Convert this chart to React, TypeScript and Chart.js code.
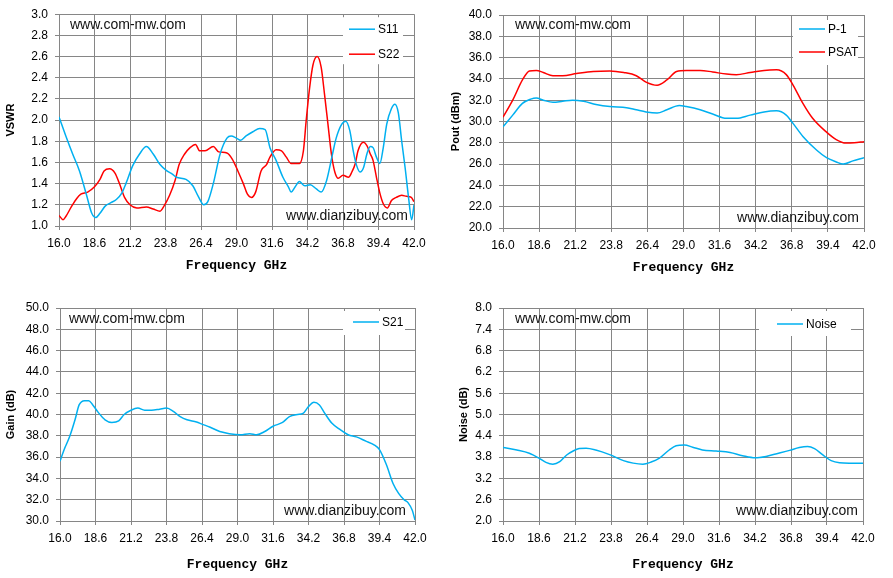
import { useEffect, useRef } from "react";
import { Chart, registerables } from "chart.js";

Chart.register(...registerables);

const BLUE = "#00B0F0";
const RED = "#FF0000";
const GRID = "#868686";
const SANS = '"Liberation Sans", Arial, sans-serif';

// ---- data ----
const freqTicks = [16.0, 18.6, 21.2, 23.8, 26.4, 29.0, 31.6, 34.2, 36.8, 39.4, 42.0];
const vswrTicks = [1.0, 1.2, 1.4, 1.6, 1.8, 2.0, 2.2, 2.4, 2.6, 2.8, 3.0];
const poutTicks = [20, 22, 24, 26, 28, 30, 32, 34, 36, 38, 40];
const gainTicks = [30, 32, 34, 36, 38, 40, 42, 44, 46, 48, 50];
const noiseTicks = [2.0, 2.6, 3.2, 3.8, 4.4, 5.0, 5.6, 6.2, 6.8, 7.4, 8.0];

const s11Freq = [16.0, 16.5, 17.0, 17.5, 18.0, 18.4, 18.7, 19.0, 19.4, 19.8, 20.2, 20.6, 20.9, 21.4, 21.9, 22.4, 22.9, 23.4, 23.9, 24.3, 24.6, 25.3, 25.8, 26.2, 26.6, 26.9, 27.3, 27.8, 28.3, 28.6, 29.0, 29.3, 29.7, 30.2, 30.7, 31.1, 31.45, 31.9, 32.4, 32.8, 33.0, 33.3, 33.6, 34.0, 34.4, 34.85, 35.2, 35.6, 36.0, 36.3, 36.7, 37.0, 37.3, 37.55, 37.8, 38.05, 38.3, 38.55, 38.8, 39.0, 39.25, 39.5, 39.75, 40.0, 40.35, 40.6, 40.85, 41.1, 41.35, 41.6, 41.83, 42.0];
const s11Vswr = [2.03, 1.85, 1.68, 1.52, 1.3, 1.12, 1.08, 1.12, 1.19, 1.22, 1.25, 1.31, 1.4, 1.57, 1.68, 1.75, 1.68, 1.58, 1.52, 1.49, 1.46, 1.44, 1.38, 1.28, 1.2, 1.23, 1.4, 1.68, 1.83, 1.85, 1.83, 1.81, 1.85, 1.89, 1.92, 1.91, 1.74, 1.62, 1.46, 1.37, 1.32, 1.37, 1.42, 1.38, 1.39, 1.35, 1.32, 1.43, 1.66, 1.83, 1.96, 1.99, 1.9, 1.71, 1.57, 1.51, 1.55, 1.68, 1.75, 1.74, 1.65, 1.59, 1.74, 1.96, 2.11, 2.15, 2.07, 1.8, 1.55, 1.27, 1.06, 1.2];

const s22Freq = [16.0, 16.3, 16.5, 16.9, 17.3, 17.6, 18.1, 18.6, 19.0, 19.3, 19.7, 20.1, 20.4, 20.8, 21.2, 21.7, 22.4, 22.9, 23.4, 23.7, 24.1, 24.5, 24.8, 25.2, 25.6, 26.0, 26.3, 26.7, 27.3, 27.7, 28.3, 28.7, 29.1, 29.5, 29.8, 30.1, 30.4, 30.8, 31.2, 31.45, 31.9, 32.3, 32.65, 33.0, 33.6, 33.9, 34.1, 34.35, 34.6, 34.9, 35.2, 35.45, 35.7, 35.95, 36.2, 36.45, 36.8, 37.2, 37.45, 37.7, 37.9, 38.3, 38.55, 38.8, 39.0, 39.25, 39.5, 39.75, 40.05, 40.35, 40.7, 41.1, 41.45, 41.8, 42.0];
const s22Vswr = [1.1, 1.06, 1.09, 1.18, 1.26, 1.3, 1.32, 1.37, 1.44, 1.52, 1.54, 1.5, 1.41, 1.27, 1.2, 1.17, 1.18, 1.16, 1.14, 1.19, 1.29, 1.43, 1.58, 1.68, 1.74, 1.77, 1.71, 1.71, 1.75, 1.7, 1.69, 1.63, 1.52, 1.4, 1.3, 1.27, 1.32, 1.52, 1.58, 1.65, 1.72, 1.71, 1.65, 1.59, 1.59, 1.71, 1.99, 2.3, 2.52, 2.6, 2.5, 2.24, 1.96, 1.68, 1.51, 1.45, 1.48, 1.46, 1.51, 1.59, 1.71, 1.79, 1.76, 1.68, 1.62, 1.46, 1.31, 1.21, 1.17, 1.24, 1.27, 1.29, 1.28, 1.27, 1.23];

const p1Freq = [16.0, 16.7, 17.4, 18.0, 18.4, 18.9, 19.6, 20.3, 21.0, 21.8, 22.7, 23.7, 24.9, 25.6, 26.3, 27.1, 27.8, 28.7, 29.2, 30.2, 31.1, 32.1, 32.8, 33.8, 34.8, 35.7, 36.4, 36.9, 37.6, 38.6, 39.3, 40.0, 40.5, 41.2, 42.0];
const p1Pout = [29.5, 30.6, 31.7, 32.1, 32.2, 32.0, 31.8, 31.9, 32.0, 31.9, 31.6, 31.4, 31.3, 31.1, 30.9, 30.8, 31.1, 31.5, 31.4, 31.1, 30.7, 30.3, 30.3, 30.6, 30.9, 31.0, 30.6, 29.8, 28.6, 27.3, 26.6, 26.2, 26.0, 26.3, 26.6];

const psatFreq = [16.0, 16.7, 17.4, 17.9, 18.4, 18.9, 19.6, 20.3, 21.3, 22.5, 23.7, 24.7, 25.6, 26.3, 27.1, 27.8, 28.5, 29.2, 30.2, 31.1, 32.1, 32.8, 33.8, 34.8, 35.7, 36.4, 36.9, 37.6, 38.3, 39.3, 40.0, 40.7, 41.3, 42.0];
const psatPout = [30.4, 32.0, 33.9, 34.75, 34.8, 34.6, 34.3, 34.3, 34.5, 34.7, 34.75, 34.6, 34.3, 33.7, 33.4, 33.9, 34.7, 34.8, 34.8, 34.65, 34.45, 34.4, 34.6, 34.8, 34.85, 34.4, 33.4, 31.7, 30.3, 29.0, 28.3, 27.97, 28.0, 28.1];

const s21Freq = [16.0, 16.3, 16.7, 17.1, 17.4, 17.8, 18.1, 18.4, 18.8, 19.3, 19.8, 20.3, 20.7, 21.2, 21.7, 22.2, 22.7, 23.3, 23.8, 24.3, 24.8, 25.3, 26.0, 26.4, 27.0, 27.7, 28.4, 29.2, 29.9, 30.4, 31.0, 31.6, 32.3, 32.8, 33.4, 33.8, 34.2, 34.6, 35.0, 35.4, 35.9, 36.5, 37.1, 37.7, 38.4, 39.0, 39.4, 39.9, 40.4, 40.8, 41.2, 41.5, 41.8, 42.0];
const s21Gain = [35.6, 36.7, 37.9, 39.5, 40.9, 41.3, 41.3, 40.9, 40.2, 39.5, 39.25, 39.4, 40.0, 40.4, 40.6, 40.4, 40.4, 40.5, 40.6, 40.3, 39.8, 39.5, 39.3, 39.1, 38.8, 38.4, 38.2, 38.1, 38.2, 38.1, 38.4, 38.9, 39.25, 39.8, 40.0, 40.1, 40.75, 41.15, 40.9, 40.1, 39.2, 38.6, 38.1, 37.9, 37.5, 37.15, 36.7, 35.3, 33.5, 32.6, 32.0, 31.7, 31.0, 30.1];

const nfFreq = [16.0, 17.0, 17.9, 18.6, 19.1, 19.6, 20.1, 20.6, 21.1, 21.5, 22.0, 22.7, 23.7, 24.7, 25.4, 26.1, 26.7, 27.3, 28.0, 28.5, 29.1, 29.7, 30.4, 31.4, 32.4, 33.3, 34.2, 35.0, 35.7, 36.7, 37.4, 38.0, 38.5, 39.1, 39.7, 40.3, 41.0, 42.0];
const nfNoise = [4.07, 4.0, 3.91, 3.77, 3.65, 3.6, 3.67, 3.86, 3.98, 4.04, 4.05, 4.0, 3.87, 3.7, 3.63, 3.6, 3.66, 3.77, 4.0, 4.12, 4.14, 4.08, 4.0, 3.97, 3.93, 3.84, 3.78, 3.82, 3.89, 3.99, 4.07, 4.1, 4.04, 3.86, 3.7, 3.64, 3.63, 3.63];

type Series = { label: string; color: string; xs: number[]; ys: number[] };
type Panel = {
  yTitle: string;
  yTicks: number[];
  series: Series[];
  // layout (pixels)
  pos: [number, number, number, number]; // left, top, width, height
  plot: [number, number, number, number]; // plotLeft, plotTop, padRight, xAxisHeight
  titlePad: [number, number]; // x-title bottom pad, y-title pad
  legend: [number, number, number, number, number, number, number]; // offRight, offTop, w, h, lineX, rowY, rowGap
  marks: [number, number, number, number];
};

const panels: Panel[] = [
  {
    yTitle: "VSWR",
    yTicks: vswrTicks,
    series: [
      { label: "S11", color: BLUE, xs: s11Freq, ys: s11Vswr },
      { label: "S22", color: RED, xs: s22Freq, ys: s22Vswr },
    ],
    pos: [0, 0, 440, 290],
    plot: [59, 12, 26, 64],
    titlePad: [16, 4],
    legend: [11, 3, 60, 47, 6, 12, 25],
    marks: [11, 11, 6, 10],
  },
  {
    yTitle: "Pout (dBm)",
    yTicks: poutTicks,
    series: [
      { label: "P-1", color: BLUE, xs: p1Freq, ys: p1Pout },
      { label: "PSAT", color: RED, xs: psatFreq, ys: psatPout },
    ],
    pos: [440, 0, 453, 290],
    plot: [63, 15, 29, 62],
    titlePad: [14, 9],
    legend: [6, 5, 65, 45, 6, 9, 23],
    marks: [12, 10, 5, 10],
  },
  {
    yTitle: "Gain (dB)",
    yTicks: gainTicks,
    series: [{ label: "S21", color: BLUE, xs: s21Freq, ys: s21Gain }],
    pos: [0, 290, 440, 288],
    plot: [60, 18, 25, 57],
    titlePad: [5, 4],
    legend: [10, 3, 62, 24, 10, 11, 0],
    marks: [9, 11, 9, 10],
  },
  {
    yTitle: "Noise (dB)",
    yTicks: noiseTicks,
    series: [{ label: "Noise", color: BLUE, xs: nfFreq, ys: nfNoise }],
    pos: [440, 290, 453, 288],
    plot: [63, 18, 30, 57],
    titlePad: [5, 17],
    legend: [12, 3, 92, 25, 18, 13, 0],
    marks: [12, 11, 5, 10],
  },
];

function overlay(p: Panel) {
  return {
    id: "overlay",
    beforeDatasetsDraw(chart: Chart) {
      const { ctx, chartArea: a } = chart;
      const [ml, mt, mr, mb] = p.marks;
      ctx.save();
      ctx.font = `14px ${SANS}`;
      ctx.fillStyle = "#111";
      ctx.textBaseline = "middle";
      ctx.textAlign = "left";
      ctx.fillText("www.com-mw.com", a.left + ml, a.top + mt);
      ctx.textAlign = "right";
      ctx.fillText("www.dianzibuy.com", a.right - mr, a.bottom - mb);
      ctx.restore();
    },
    afterDatasetsDraw(chart: Chart) {
      const { ctx, chartArea: a } = chart;
      const [offR, offT, w, h, lineX, rowY, gap] = p.legend;
      const bx = a.right - offR - w;
      const by = a.top + offT;
      ctx.save();
      ctx.fillStyle = "#fff";
      ctx.fillRect(bx, by, w, h);
      ctx.font = `12px ${SANS}`;
      ctx.textBaseline = "middle";
      ctx.textAlign = "left";
      chart.data.datasets.forEach((ds, i) => {
        const y = by + rowY + i * gap;
        ctx.strokeStyle = ds.borderColor as string;
        ctx.lineWidth = 1.5;
        ctx.beginPath();
        ctx.moveTo(bx + lineX, y);
        ctx.lineTo(bx + lineX + 26, y);
        ctx.stroke();
        ctx.fillStyle = "#000";
        ctx.fillText(ds.label ?? "", bx + lineX + 29, y + 0.5);
      });
      ctx.restore();
    },
  };
}

function PanelChart({ p }: { p: Panel }) {
  const ref = useRef<HTMLCanvasElement>(null);

  useEffect(() => {
    if (!ref.current) return;
    const [plotLeft, plotTop, padRight, xH] = p.plot;
    const tickFont = { family: SANS, size: 12 };
    const chart = new Chart(ref.current, {
      type: "line",
      data: {
        datasets: p.series.map((s) => ({
          label: s.label,
          data: s.xs.map((x, i) => ({ x, y: s.ys[i] })),
          borderColor: s.color,
          backgroundColor: s.color,
          borderWidth: 1.5,
          pointRadius: 0,
          cubicInterpolationMode: "monotone" as const,
          fill: false,
        })),
      },
      options: {
        responsive: false,
        animation: false,
        devicePixelRatio: 1,
        layout: { padding: { left: 0, top: plotTop, right: padRight, bottom: 0 } },
        plugins: { legend: { display: false }, tooltip: { enabled: false } },
        scales: {
          x: {
            type: "linear",
            min: freqTicks[0],
            max: freqTicks[freqTicks.length - 1],
            afterBuildTicks: (s: any) => {
              s.ticks = freqTicks.map((value) => ({ value }));
            },
            afterFit: (s: any) => {
              s.height = xH;
            },
            ticks: {
              callback: (v: any) => Number(v).toFixed(1),
              color: "#000",
              font: tickFont,
              padding: 6,
              maxRotation: 0,
              autoSkip: false,
            },
            grid: { color: GRID, tickLength: 4 },
            border: { color: GRID },
            title: {
              display: true,
              text: "Frequency GHz",
              color: "#000",
              font: { family: '"Liberation Mono", monospace', size: 13, weight: "bold" },
              padding: { top: 0, bottom: p.titlePad[0] },
            },
          },
          y: {
            type: "linear",
            min: p.yTicks[0],
            max: p.yTicks[p.yTicks.length - 1],
            afterBuildTicks: (s: any) => {
              s.ticks = p.yTicks.map((value) => ({ value }));
            },
            afterFit: (s: any) => {
              s.width = plotLeft;
            },
            ticks: {
              callback: (v: any) => Number(v).toFixed(1),
              color: "#000",
              font: tickFont,
              padding: 7,
              autoSkip: false,
            },
            grid: { color: GRID, tickLength: 4 },
            border: { color: GRID },
            title: {
              display: true,
              text: p.yTitle,
              color: "#000",
              font: { family: SANS, size: 11, weight: "bold" },
              padding: { top: p.titlePad[1], bottom: 0 },
            },
          },
        },
      },
      plugins: [overlay(p)],
    });
    return () => chart.destroy();
  }, [p]);

  const [left, top, width, height] = p.pos;
  return (
    <canvas
      ref={ref}
      width={width}
      height={height}
      style={{ position: "absolute", left, top, width, height }}
    />
  );
}

export default function App() {
  return (
    <div style={{ position: "absolute", left: 0, top: 0, width: 893, height: 578, background: "#fff" }}>
      {panels.map((p, i) => (
        <PanelChart key={i} p={p} />
      ))}
    </div>
  );
}
